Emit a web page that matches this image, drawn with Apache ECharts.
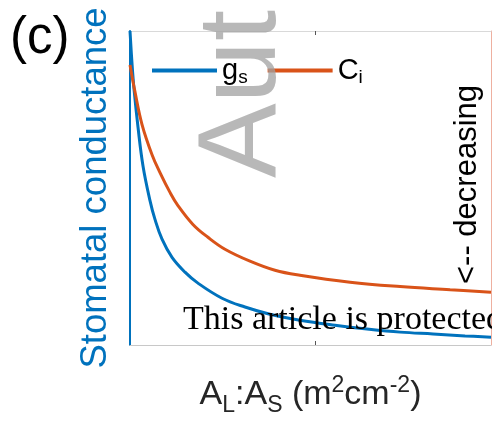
<!DOCTYPE html>
<html>
<head>
<meta charset="utf-8">
<script src="https://cdn.jsdelivr.net/npm/echarts@6/dist/echarts.min.js"></script>
<style>
  html, body { margin: 0; padding: 0; background: #fff; }
  #chart { width: 492px; height: 422px; }
</style>
</head>
<body>
<div id="chart"></div>
<script>
// A_L:A_S values (arbitrary units, axis has no labels)
const gsX = [0, 0.011, 0.022, 0.043, 0.070, 0.108, 0.135, 0.173, 0.227, 0.297, 0.367, 0.497, 0.621, 0.756, 0.918, 1.107, 1.280, 1.459, 1.637, 1.810, 1.950]
const gsY = [1.0, 0.895, 0.813, 0.695, 0.571, 0.460, 0.400, 0.337, 0.279, 0.232, 0.197, 0.149, 0.121, 0.098, 0.079, 0.063, 0.051, 0.041, 0.035, 0.029, 0.025]

const ciX = [0, 0.027, 0.065, 0.119, 0.162, 0.216, 0.259, 0.340, 0.421, 0.513, 0.648, 0.783, 0.918, 1.189, 1.459, 1.729, 1.950]
const ciY = [0.892, 0.806, 0.702, 0.606, 0.549, 0.486, 0.444, 0.384, 0.343, 0.305, 0.267, 0.238, 0.222, 0.200, 0.186, 0.176, 0.168]

const xTicks = [1]
const seriesNames = ['gs', 'Ci']

const FONT = 'Liberation Sans, Arial, sans-serif'
const BLUE = '#0072BD'
const ORANGE = '#D95319'

const chart = echarts.init(document.getElementById('chart'))

const pairs = (xs, ys) => xs.map((x, i) => [x, ys[i]])

const option = {
  animation: false,
  backgroundColor: '#fff',
  grid: {
    left: 130,
    right: 1,
    top: 31,
    bottom: 76
  },
  legend: {
    data: seriesNames,
    left: 152,
    top: 54,
    padding: 0,
    icon: 'rect',
    itemWidth: 65,
    itemHeight: 4,
    itemGap: 20,
    formatter: name => name === 'gs' ? '{b|g}{s|s}' : '{b|C}{s|i}',
    textStyle: {
      color: '#000',
      rich: {
        b: { fontFamily: FONT, fontSize: 29, color: '#000', lineHeight: 34 },
        s: { fontFamily: FONT, fontSize: 19, color: '#000', lineHeight: 34, padding: [14, 0, 0, 0] }
      }
    }
  },
  xAxis: [{
    type: 'value',
    min: 0,
    max: 1.95,
    position: 'bottom',
    name: '{b|A}{s|L}{b|:A}{s|S}{b| (m}{p|2}{b|cm}{p|-2}{b|)}',
    nameLocation: 'middle',
    nameGap: 29,
    nameTextStyle: {
      color: '#262626',
      rich: {
        b: { fontFamily: FONT, fontSize: 34, color: '#262626', lineHeight: 42 },
        s: { fontFamily: FONT, fontSize: 23, color: '#262626', lineHeight: 42, padding: [21, 0, 0, 0] },
        p: { fontFamily: FONT, fontSize: 23, color: '#262626', lineHeight: 42, padding: [0, 0, 19, 0] }
      }
    },
    splitLine: { show: false },
    axisLabel: { show: false },
    axisLine: { onZero: false, lineStyle: { color: '#c8c8c8', width: 1 } },
    axisTick: { inside: true, length: 4, customValues: xTicks, lineStyle: { color: '#555' } }
  }, {
    type: 'value',
    min: 0,
    max: 1.95,
    position: 'top',
    splitLine: { show: false },
    axisLabel: { show: false },
    axisLine: { onZero: false, lineStyle: { color: '#d9d9d9', width: 1 } },
    axisTick: { inside: true, length: 4, customValues: xTicks, lineStyle: { color: '#555' } }
  }],
  yAxis: [{
    type: 'value',
    min: 0,
    max: 1,
    position: 'left',
    name: 'Stomatal conductance',
    nameLocation: 'middle',
    nameGap: 16,
    nameTextStyle: { color: BLUE, fontFamily: FONT, fontSize: 36.5 },
    splitLine: { show: false },
    axisLabel: { show: false },
    axisTick: { show: false },
    axisLine: { show: true, onZero: false, lineStyle: { color: BLUE, width: 2 } }
  }, {
    type: 'value',
    min: 0,
    max: 1,
    position: 'right',
    splitLine: { show: false },
    axisLabel: { show: false },
    axisTick: { show: false },
    axisLine: { show: true, onZero: false, lineStyle: { color: '#eeb0a0', width: 1 } }
  }],
  series: [{
    name: 'gs',
    type: 'line',
    data: pairs(gsX, gsY),
    smooth: 0.4,
    showSymbol: false,
    itemStyle: { color: BLUE },
    lineStyle: { color: BLUE, width: 3 }
  }, {
    name: 'Ci',
    type: 'line',
    data: pairs(ciX, ciY),
    smooth: 0.4,
    showSymbol: false,
    itemStyle: { color: ORANGE },
    lineStyle: { color: ORANGE, width: 3 }
  }],
  graphic: [{
    type: 'text',
    left: 10,
    top: 13,
    style: { text: '(c)', font: '51px ' + FONT, fill: '#000' }
  }, {
    type: 'text',
    x: 483,
    y: 284,
    rotation: Math.PI / 2,
    style: { text: '<-- decreasing', font: '31px ' + FONT, fill: '#000', textAlign: 'left', textVerticalAlign: 'bottom' }
  }, {
    type: 'text',
    x: 183,
    y: 337,
    z: 100,
    style: { text: 'This article is protected', font: '34px Liberation Serif, Times New Roman, serif', fill: '#000', textAlign: 'left', textVerticalAlign: 'bottom' }
  }, {
    type: 'text',
    x: 300,
    y: 178,
    z: 100,
    rotation: Math.PI / 2,
    style: { text: 'Aut', font: '112px ' + FONT, fill: 'rgba(160,160,160,0.75)', textAlign: 'left', textVerticalAlign: 'bottom' }
  }]
}

chart.setOption(option)
</script>
</body>
</html>
